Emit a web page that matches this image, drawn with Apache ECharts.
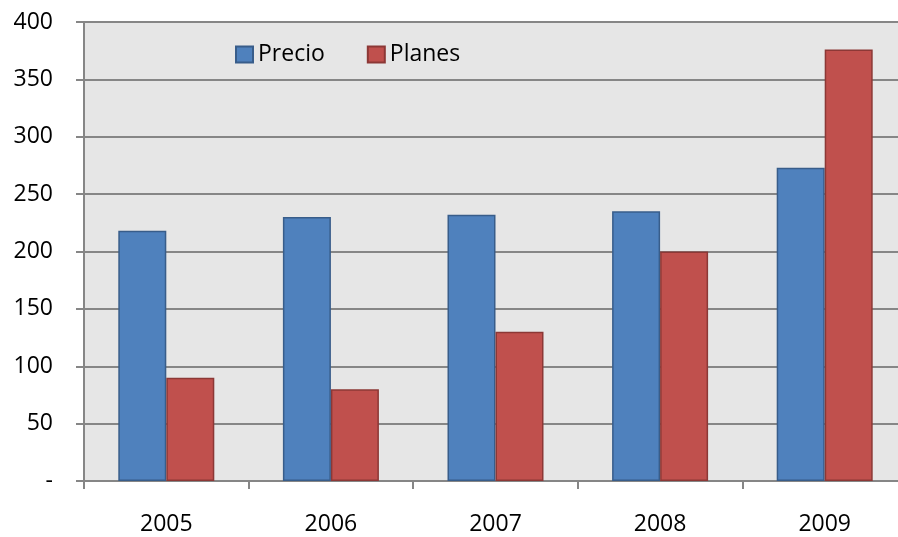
<!DOCTYPE html>
<html>
<head>
<meta charset="utf-8">
<script src="https://cdn.jsdelivr.net/npm/echarts@6/dist/echarts.min.js"></script>
<style>
  html, body { margin: 0; padding: 0; background: #ffffff; overflow: hidden; width: 898px; height: 537px; }
  /* the plot runs a little past the right edge of the page */
  #chart { width: 907px; height: 537px; }
</style>
</head>
<body>
<div id="chart"></div>
<script>
// Years on the category axis
const years = ['2005', '2006', '2007', '2008', '2009'];
// Series values
const precio = [218, 230, 232, 235, 273];
const planes = [90, 80, 130, 200, 376];
// Value axis range
const yMin = 0;
const yMax = 400;
const yStep = 50;

const FONT = '"Open Sans", "Noto Sans", sans-serif';
const AXIS_GRAY = '#868686';

const chart = echarts.init(document.getElementById('chart'), null, { renderer: 'canvas' });

chart.setOption({
  animation: false,
  backgroundColor: '#ffffff',
  textStyle: { fontFamily: FONT },
  grid: {
    left: 84,
    top: 22,
    right: 0,
    bottom: 56,
    containLabel: false,
    show: true,
    backgroundColor: '#e6e6e6',
    borderWidth: 0
  },
  legend: {
    left: 235,
    top: 43,
    padding: 0,
    icon: 'rect',
    itemWidth: 17,
    itemHeight: 16,
    itemGap: 42,
    textStyle: { fontFamily: FONT, fontSize: 23, color: '#000000' },
    data: ['Precio', 'Planes']
  },
  xAxis: {
    type: 'category',
    data: years,
    boundaryGap: true,
    axisLine: { show: true, lineStyle: { color: AXIS_GRAY, width: 2 } },
    axisTick: { show: true, interval: 0, length: 8, lineStyle: { color: AXIS_GRAY, width: 2 } },
    axisLabel: { fontFamily: FONT, fontSize: 23, color: '#000000', margin: 32 },
    splitLine: { show: false }
  },
  yAxis: {
    type: 'value',
    min: yMin,
    max: yMax,
    interval: yStep,
    axisLine: { show: true, lineStyle: { color: AXIS_GRAY, width: 2 } },
    axisTick: { show: true, length: 8, lineStyle: { color: AXIS_GRAY, width: 2 } },
    axisLabel: {
      fontFamily: FONT,
      fontSize: 23,
      color: '#000000',
      margin: 31,
      formatter: v => (v === 0 ? '-' : String(v))
    },
    splitLine: { show: true, lineStyle: { color: AXIS_GRAY, width: 2 } }
  },
  series: [
    {
      name: 'Precio',
      type: 'bar',
      data: precio,
      barWidth: 48,
      barGap: '0%',
      itemStyle: { color: '#4f81bd', borderColor: '#385d8a', borderWidth: 1.5 }
    },
    {
      name: 'Planes',
      type: 'bar',
      data: planes,
      barWidth: 48,
      barGap: '0%',
      itemStyle: { color: '#c0504d', borderColor: '#8c3836', borderWidth: 1.5 }
    }
  ]
});
</script>
</body>
</html>
